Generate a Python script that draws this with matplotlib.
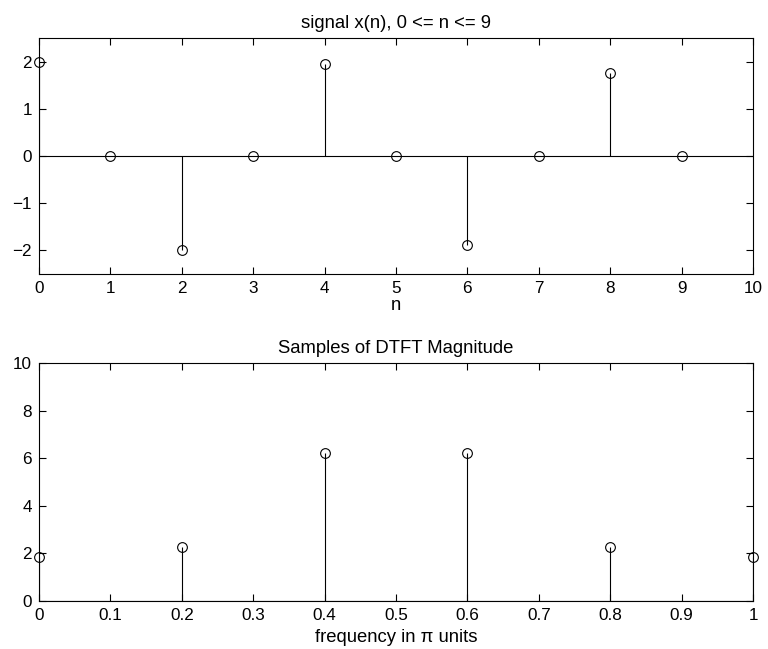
import matplotlib
matplotlib.use("Agg")
import matplotlib.pyplot as plt

plt.rcParams['font.family'] = ['Liberation Sans', 'DejaVu Sans']
plt.rcParams['font.size'] = 12.3

# signal samples x(n)
n = [0, 1, 2, 3, 4, 5, 6, 7, 8, 9]
x = [2.0, 0.0, -1.99, 0.0, 1.94, 0.0, -1.88, 0.0, 1.76, 0.0]

# DTFT magnitude samples
freq = [0.0, 0.2, 0.4, 0.6, 0.8, 1.0]
mag = [1.85, 2.27, 6.2, 6.2, 2.27, 1.85]

LABEL_SIZE = 13.3


def matlab_stem(ax, xs, ys, xlim):
	ax.axhline(0, color='black', linewidth=0.8, zorder=1)
	ax.vlines(xs, 0, ys, color='black', linewidth=0.8, zorder=2)
	ax.plot(xs, ys, 'o', markersize=7, markerfacecolor='none', markeredgecolor='black',
		markeredgewidth=0.8, clip_on=False, zorder=3)
	ax.set_xlim(*xlim)
	ax.tick_params(direction='in', top=True, right=True, length=5, width=0.8, pad=5)
	for s in ax.spines.values():
		s.set_linewidth(0.8)


fig = plt.figure(figsize=(7.68, 6.49), dpi=100)

ax1 = fig.add_axes([39/768, 1 - 274/649, 714/768, 236/649])
matlab_stem(ax1, n, x, (0, 10))
ax1.set_ylim(-2.5, 2.5)
ax1.set_xticks(range(0, 11))
ax1.set_yticks([-2, -1, 0, 1, 2])
ax1.set_yticklabels(['\u22122', '\u22121', '0', '1', '2'])
ax1.set_title('signal x(n), 0 <= n <= 9', fontsize=LABEL_SIZE, pad=7)
ax1.set_xlabel('n', fontsize=LABEL_SIZE, labelpad=1)

ax2 = fig.add_axes([39/768, 1 - 601/649, 714/768, 238/649])
matlab_stem(ax2, freq, mag, (0, 1))
ax2.set_ylim(0, 10)
ax2.set_xticks([0, 0.1, 0.2, 0.3, 0.4, 0.5, 0.6, 0.7, 0.8, 0.9, 1])
ax2.set_xticklabels(['0', '0.1', '0.2', '0.3', '0.4', '0.5', '0.6', '0.7', '0.8', '0.9', '1'])
ax2.set_yticks([0, 2, 4, 6, 8, 10])
ax2.set_title('Samples of DTFT Magnitude', fontsize=LABEL_SIZE, pad=7)
ax2.set_xlabel('frequency in \u03c0 units', fontsize=LABEL_SIZE, labelpad=4)

fig.savefig('out.png', dpi=100)
